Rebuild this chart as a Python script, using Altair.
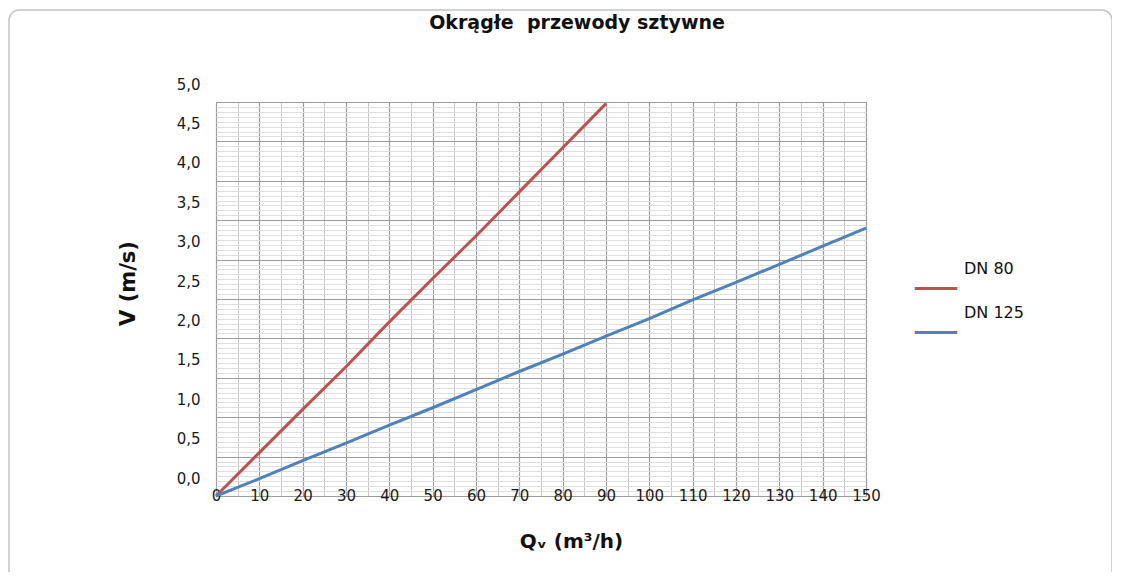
import altair as alt
import pandas as pd

# --- data ---
q_dn80 = [0, 10, 20, 30, 40, 50, 60, 70, 80, 90]
v_dn80 = [0.0, 0.55, 1.10, 1.64, 2.21, 2.76, 3.30, 3.86, 4.42, 4.98]

q_dn125 = [0, 10, 20, 30, 40, 50, 60, 70, 80, 90, 100, 110, 120, 130, 140, 150]
v_dn125 = [0.0, 0.22, 0.45, 0.67, 0.90, 1.12, 1.35, 1.58, 1.80, 2.03, 2.25, 2.49, 2.71, 2.94, 3.17, 3.40]

series_names = ["DN 80", "DN 125"]
series_colors = ["#C0504D", "#4F81BD"]

x_major = list(range(0, 151, 10))
x_minor = list(range(5, 151, 10))
y_major = [i / 2 for i in range(11)]
y_minor = [round(i * 0.0625, 4) for i in range(81) if i % 8 != 0]

title_text = "Okrągłe\u00a0 przewody sztywne"
x_title = "Qᵥ (m³/h)"
y_title = "V (m/s)"

df = pd.concat([
    pd.DataFrame({"Q": q_dn80, "V": v_dn80, "series": series_names[0]}),
    pd.DataFrame({"Q": q_dn125, "V": v_dn125, "series": series_names[1]}),
], ignore_index=True)

FONT = "DejaVu Sans"
xs = alt.Scale(domain=[0, 150], nice=False)
ys = alt.Scale(domain=[0, 5], nice=False)

minor = alt.Chart(df).mark_line(opacity=0).encode(
    x=alt.X("Q:Q", scale=xs, axis=alt.Axis(
        values=x_minor, orient="bottom", grid=True, gridColor="#c6c6c6", gridWidth=1,
        labels=False, ticks=False, domain=False, title=None)),
    y=alt.Y("V:Q", scale=ys, axis=alt.Axis(
        values=y_minor, orient="left", grid=True, gridColor="#dedede", gridWidth=1,
        labels=False, ticks=False, domain=False, title=None)),
    detail="series:N",
)

major = alt.Chart(df).mark_line(opacity=0).encode(
    x=alt.X("Q:Q", scale=xs, axis=alt.Axis(
        values=x_major, orient="bottom", grid=True, gridColor="#9c9c9c", gridWidth=1.2,
        ticks=False, tickSize=0, domain=False,
        labelFont=FONT, labelFontSize=15, labelColor="#1a1a1a",
        labelBaseline="middle", labelPadding=-1, labelFlush=False, labelOverlap=False,
        title=x_title, titleFont=FONT, titleFontSize=20, titleFontWeight="bold",
        titleColor="#111111", titleX=355, titleY=45, titleBaseline="middle",
        titleAlign="center")),
    y=alt.Y("V:Q", scale=ys, axis=alt.Axis(
        values=y_major, orient="left", grid=True, gridColor="#9c9c9c", gridWidth=1.2,
        ticks=False, tickSize=0, domain=False,
        labelExpr="replace(format(datum.value, '.1f'), '.', ',')",
        labelFont=FONT, labelFontSize=15, labelColor="#1a1a1a",
        labelOffset=-18, labelPadding=16, labelFlush=False, labelOverlap=False,
        title=y_title, titleFont=FONT, titleFontSize=21, titleFontWeight="bold",
        titleColor="#111111", titleX=-88, titleY=181, titleAngle=270,
        titleBaseline="middle", titleAlign="center")),
    detail="series:N",
)

lines = alt.Chart(df).mark_line(strokeWidth=3).encode(
    x=alt.X("Q:Q", scale=xs, axis=None),
    y=alt.Y("V:Q", scale=ys, axis=None),
    color=alt.Color("series:N",
                    scale=alt.Scale(domain=series_names, range=series_colors),
                    legend=alt.Legend(
                        orient="none", legendX=706, legendY=153, title=None,
                        symbolType="M-1.7,1.55L1.7,1.55", symbolSize=625,
                        symbolStrokeWidth=3, labelFont=FONT, labelFontSize=16,
                        labelColor="#111111", labelOffset=14, rowPadding=4)),
)

border = alt.Chart(pd.DataFrame({"k": [0]})).mark_rect(
    filled=False, stroke="#c4c4c4", strokeWidth=1.5, cornerRadius=10
).encode(
    x=alt.value(-207), x2=alt.value(896), y=alt.value(-92), y2=alt.value(620)
)

chart = alt.layer(border, minor, major, lines).resolve_axis(
    x="independent", y="independent"
).properties(
    width=650, height=394,
    autosize=alt.AutoSizeParams(type="none"),
    padding={"left": 208, "top": 94, "right": 246, "bottom": 76},
    title=alt.TitleParams(title_text, font=FONT, fontSize=19, fontWeight="bold",
                          color="#111111", anchor="middle", frame="group",
                          dx=36, offset=-39, baseline="alphabetic"),
).configure_view(stroke=None).configure(background="white")

chart.save("out.html", embed_options={"renderer": "svg", "actions": False})
